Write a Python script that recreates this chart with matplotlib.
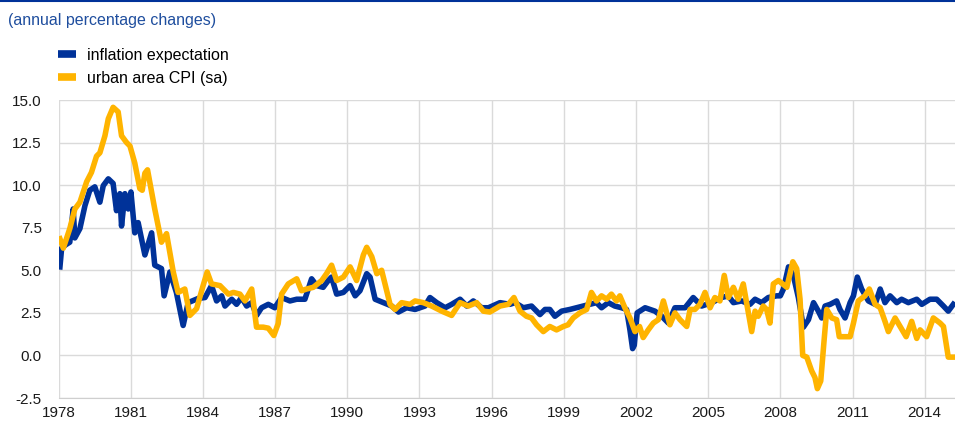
import matplotlib
matplotlib.use("Agg")
import matplotlib.pyplot as plt
from matplotlib.lines import Line2D

plt.rcParams['font.family'] = ['Liberation Sans', 'DejaVu Sans']

# inflation expectation (blue)
exp_years = [1978.06, 1978.13, 1978.3, 1978.47, 1978.61, 1978.68, 1978.89, 1979.1, 1979.3, 1979.51,
             1979.72, 1979.86, 1980.07, 1980.27, 1980.41, 1980.55, 1980.62, 1980.76, 1980.9, 1981.01,
             1981.17, 1981.31, 1981.59, 1981.87, 1982.0, 1982.28, 1982.39, 1982.63, 1982.9, 1983.18,
             1983.39, 1983.81, 1984.09, 1984.36, 1984.57, 1984.78, 1984.92, 1985.2, 1985.4, 1985.61,
             1985.82, 1986.03, 1986.23, 1986.44, 1986.72, 1986.99, 1987.27, 1987.62, 1987.9, 1988.24,
             1988.52, 1988.73, 1989.0, 1989.21, 1989.35, 1989.56, 1989.84, 1990.12, 1990.33, 1990.53,
             1990.81, 1990.95, 1991.16, 1991.5, 1991.85, 1992.13, 1992.47, 1992.82, 1993.23, 1993.44,
             1993.72, 1994.07, 1994.34, 1994.69, 1994.97, 1995.24, 1995.59, 1995.87, 1996.35, 1996.76,
             1996.97, 1997.32, 1997.66, 1998.01, 1998.22, 1998.42, 1998.63, 1998.91, 1999.25, 1999.53,
             1999.81, 2000.09, 2000.36, 2000.57, 2000.85, 2001.12, 2001.4, 2001.61, 2001.75, 2001.86,
             2001.93, 2002.05, 2002.38, 2002.79, 2003.07, 2003.35, 2003.62, 2004.04, 2004.38, 2004.73,
             2005.15, 2005.56, 2005.84, 2006.05, 2006.39, 2006.74, 2006.95, 2007.22, 2007.5, 2007.85,
             2008.0, 2008.13, 2008.34, 2008.54, 2008.75, 2008.96, 2009.17, 2009.38, 2009.58, 2009.72,
             2009.86, 2010.07, 2010.34, 2010.48, 2010.69, 2010.9, 2011.04, 2011.2, 2011.38, 2011.66,
             2011.94, 2012.15, 2012.35, 2012.56, 2012.84, 2013.04, 2013.32, 2013.67, 2013.88, 2014.22,
             2014.5, 2014.78, 2014.98, 2015.19]
exp_values = [5.2, 6.3, 6.5, 6.65, 8.6, 6.9, 7.45, 8.8, 9.7, 9.9,
              9.0, 9.97, 10.37, 10.1, 8.5, 9.5, 7.6, 9.5, 8.6, 9.6,
              7.2, 7.8, 5.9, 7.2, 5.3, 5.1, 3.5, 4.9, 3.7, 1.76,
              3.1, 3.35, 3.4, 4.1, 3.2, 3.5, 2.9, 3.3, 3.0, 3.4,
              2.9, 3.1, 2.35, 2.8, 3.0, 2.8, 3.4, 3.2, 3.3, 3.3,
              4.5, 4.1, 4.0, 4.4, 4.6, 3.6, 3.7, 4.1, 3.5, 3.8,
              4.8, 4.6, 3.3, 3.1, 2.9, 2.55, 2.8, 2.7, 2.9, 3.4,
              3.1, 2.8, 3.0, 3.3, 2.9, 3.2, 2.8, 2.8, 3.1, 3.0,
              3.1, 2.8, 2.9, 2.4, 2.7, 2.7, 2.3, 2.6, 2.7, 2.8,
              2.9, 3.0, 3.1, 2.8, 3.1, 2.9, 2.8, 2.7, 1.5, 0.4,
              0.6, 2.5, 2.8, 2.6, 2.3, 1.9, 2.8, 2.8, 3.4, 2.9,
              3.1, 3.4, 3.5, 3.1, 3.2, 3.0, 3.3, 3.1, 3.4, 3.5,
              3.5, 3.9, 5.2, 4.7, 3.4, 1.66, 2.1, 3.1, 2.6, 2.2,
              2.9, 3.0, 3.2, 2.7, 2.2, 3.1, 3.5, 4.6, 3.9, 3.2,
              3.0, 3.9, 3.1, 3.5, 3.1, 3.3, 3.1, 3.3, 3.0, 3.3,
              3.3, 2.9, 2.6, 3.0]

# urban area CPI, seasonally adjusted (yellow)
cpi_years = [1978.06, 1978.2, 1978.47, 1978.68, 1978.89, 1979.17, 1979.37, 1979.58, 1979.72, 1979.93,
             1980.07, 1980.27, 1980.48, 1980.62, 1980.83, 1980.97, 1981.17, 1981.38, 1981.48, 1981.59,
             1981.7, 1982.0, 1982.28, 1982.49, 1982.77, 1982.97, 1983.25, 1983.46, 1983.74, 1984.01,
             1984.18, 1984.36, 1984.71, 1985.06, 1985.27, 1985.54, 1985.75, 1986.03, 1986.23, 1986.51,
             1986.72, 1986.95, 1987.13, 1987.27, 1987.55, 1987.9, 1988.1, 1988.31, 1988.59, 1988.94,
             1989.14, 1989.35, 1989.56, 1989.84, 1990.12, 1990.39, 1990.67, 1990.81, 1991.02, 1991.23,
             1991.43, 1991.78, 1991.99, 1992.26, 1992.61, 1992.82, 1993.16, 1993.51, 1993.93, 1994.34,
             1994.69, 1995.03, 1995.38, 1995.66, 1995.93, 1996.35, 1996.69, 1996.93, 1997.18, 1997.45,
             1997.66, 1997.87, 1998.15, 1998.42, 1998.7, 1998.98, 1999.18, 1999.39, 1999.67, 1999.95,
             2000.15, 2000.36, 2000.57, 2000.78, 2000.98, 2001.19, 2001.33, 2001.54, 2001.75, 2001.96,
             2002.15, 2002.3, 2002.51, 2002.72, 2002.93, 2003.14, 2003.41, 2003.62, 2003.83, 2004.11,
             2004.25, 2004.45, 2004.66, 2004.87, 2005.08, 2005.28, 2005.49, 2005.67, 2005.84, 2006.05,
             2006.25, 2006.46, 2006.67, 2006.81, 2006.95, 2007.08, 2007.29, 2007.43, 2007.57, 2007.71,
             2007.92, 2008.27, 2008.52, 2008.68, 2008.82, 2008.93, 2009.1, 2009.3, 2009.44, 2009.54,
             2009.68, 2009.82, 2009.93, 2010.14, 2010.34, 2010.45, 2010.69, 2010.9, 2011.04, 2011.24,
             2011.52, 2011.7, 2011.94, 2012.15, 2012.35, 2012.49, 2012.77, 2012.98, 2013.23, 2013.46,
             2013.67, 2013.81, 2014.08, 2014.36, 2014.64, 2014.78, 2014.98, 2015.19]
cpi_values = [6.85, 6.3, 7.45, 8.6, 9.0, 10.2, 10.75, 11.7, 11.9, 12.9,
              13.9, 14.57, 14.3, 12.9, 12.5, 12.3, 11.3, 9.8, 9.7, 10.7,
              10.9, 8.6, 6.65, 7.15, 4.9, 3.7, 3.9, 2.35, 2.75, 4.1,
              4.9, 4.2, 4.1, 3.6, 3.7, 3.6, 3.2, 3.9, 1.66, 1.66,
              1.6, 1.17, 1.87, 3.6, 4.2, 4.5, 3.8, 3.9, 4.0, 4.4,
              4.8, 5.3, 4.4, 4.6, 5.2, 4.4, 5.9, 6.35, 5.8, 4.8,
              5.0, 3.0, 2.7, 3.1, 3.0, 3.2, 3.1, 2.9, 2.6, 2.35,
              3.1, 2.9, 3.1, 2.6, 2.55, 2.9, 3.0, 3.4, 2.6, 2.3,
              2.2, 1.8, 1.4, 1.7, 1.5, 1.7, 1.8, 2.2, 2.5, 2.7,
              3.7, 3.2, 3.5, 3.3, 3.6, 3.2, 3.5, 2.8, 2.2, 1.4,
              1.7, 1.05, 1.5, 1.9, 2.1, 3.2, 1.8, 2.5, 2.1, 1.7,
              2.7, 2.7, 3.0, 3.7, 2.8, 3.4, 3.2, 4.7, 3.4, 4.0,
              3.3, 4.2, 2.5, 1.4, 2.6, 2.3, 2.9, 2.7, 1.9, 4.2,
              4.4, 4.0, 5.5, 5.1, 3.3, 0.0, -0.1, -0.9, -1.3, -1.95,
              -1.5, 0.9, 2.7, 2.2, 2.1, 1.1, 1.1, 1.1, 1.9, 3.2,
              3.5, 3.9, 3.0, 2.8, 2.0, 1.4, 2.2, 1.7, 1.1, 2.0,
              1.0, 1.5, 1.1, 2.2, 1.9, 1.7, -0.1, -0.1]

x_ticks = list(range(1978, 2015, 3))
y_ticks = [-2.5, 0.0, 2.5, 5.0, 7.5, 10.0, 12.5, 15.0]

blue = '#003299'
yellow = '#FFB400'

fig = plt.figure(figsize=(9.55, 4.23), dpi=100)
ax = fig.add_axes([58.5 / 955, 25 / 423, 1 - 58.5 / 955, 298 / 423])

ax.plot(exp_years, exp_values, color=blue, lw=4.0, solid_joinstyle='round', zorder=3)
ax.plot(cpi_years, cpi_values, color=yellow, lw=4.0, solid_joinstyle='round', zorder=4)

ax.set_xlim(1978, 2015.26)
ax.set_ylim(-2.5, 15)
ax.set_xticks(x_ticks)
ax.set_xticklabels([str(y) for y in x_ticks])
ax.set_yticks(y_ticks)
ax.set_yticklabels(['%.1f' % v for v in y_ticks])
ax.grid(True, color='#DADADA', lw=1)
ax.set_axisbelow(True)
for s in ['top', 'right', 'left']:
    ax.spines[s].set_visible(False)
ax.spines['bottom'].set_color('#CFCFCF')
ax.tick_params(length=0, labelsize=11, colors='#1A1A1A', pad=6)
ax.tick_params(axis='y', pad=12)

# top rule and subtitle
fig.add_artist(Line2D([0, 1], [0.998, 0.998], color=blue, lw=1.5))
fig.text(8 / 955, 1 - 20 / 423, '(annual percentage changes)', color='#1F4E9E',
         fontsize=11.5, va='center', ha='left')

handles = [Line2D([], [], color=blue, lw=5.5, solid_capstyle='butt'),
           Line2D([], [], color=yellow, lw=5.5, solid_capstyle='butt')]
fig.legend(handles, ['inflation expectation', 'urban area CPI (sa)'],
           loc='upper left', bbox_to_anchor=(58 / 955, 1 - 48 / 423), frameon=False,
           fontsize=11.5, handlelength=1.1, handletextpad=0.7, labelspacing=0.5,
           borderaxespad=0, borderpad=0)

fig.savefig('out.png', dpi=100)
